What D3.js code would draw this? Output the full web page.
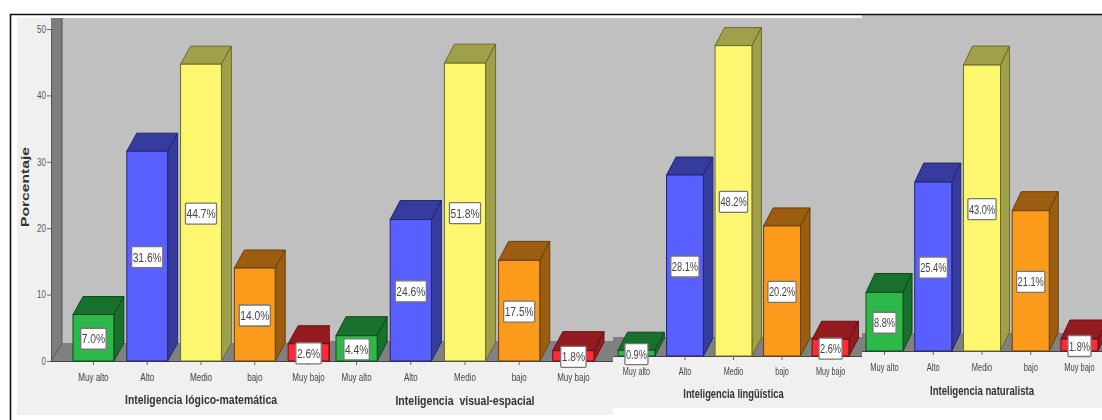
<!DOCTYPE html>
<html>
<head>
<meta charset="utf-8">
<script src="https://d3js.org/d3.v7.min.js"></script>
<style>
  html, body { margin: 0; padding: 0; background: #fff; }
  svg { display: block; }
</style>
</head>
<body>
<div id="chart"></div>
<script>
// data
var categories = ["Muy alto", "Alto", "Medio", "bajo", "Muy bajo"];
var titles = ["Inteligencia lógico-matemática", "Inteligencia  visual-espacial", "Inteligencia lingüística", "Inteligencia naturalista"];
var logicoValues = [7.0, 31.6, 44.7, 14.0, 2.6];
var visualValues = [4.4, 24.6, 51.8, 17.5, 1.8];
var linguisticaValues = [0.9, 28.1, 48.2, 20.2, 2.6];
var naturalistaValues = [8.8, 25.4, 43.0, 21.1, 1.8];
var yTicks = [0, 10, 20, 30, 40, 50];

var seriesValues = [logicoValues, visualValues, linguisticaValues, naturalistaValues];

var svgWidth = 1102;
var svgHeight = 420;

// each panel was pasted in at its own size, so each one has its own scale
var panels = [
  { x0: 17, x1: 330, top: 18, bottom: 415, base: 361, floor: 343, yTop: 29, barL: 73, barR: 329, dx: 10, dy: 18, tickY: 378, titleY: 400, squeeze: 0.8, titleSqueeze: 0.87, boxSqueeze: 0.82 },
  { x0: 330, x1: 613, top: 18, bottom: 415, base: 361, floor: 341, yTop: 73.5, barL: 336, barR: 594, dx: 10, dy: 19, tickY: 378, titleY: 401, squeeze: 0.8, titleSqueeze: 0.88, boxSqueeze: 0.82 },
  { x0: 613, x1: 862, top: 18, bottom: 408, base: 356, floor: 337, yTop: 34, barL: 618, barR: 849, dx: 9.5, dy: 18, tickY: 372, titleY: 394, squeeze: 0.72, titleSqueeze: 0.78, boxSqueeze: 0.74 },
  { x0: 862, x1: 1102, top: 15, bottom: 408, base: 351, floor: 333, yTop: 18.5, barL: 866, barR: 1098, dx: 9, dy: 19, tickY: 368, titleY: 391, squeeze: 0.75, titleSqueeze: 0.8, boxSqueeze: 0.74 }
];

var frontColors = ["#2db84a", "#5a5fff", "#fdf76f", "#fc9a1c", "#ff2a33"];
var darkColors = ["#17702c", "#363c9e", "#a0a04a", "#9c5d10", "#941c20"];
var edgeColors = ["#0f4a1d", "#232768", "#6a6a30", "#67400b", "#611215"];

var fontName = "'Liberation Sans', sans-serif";

// the labels in the picture are condensed, no narrow face is installed
function squeezeText(selection, k) {
  selection.each(function() {
    d3.select(this)
      .attr("textLength", this.getComputedTextLength() * k)
      .attr("lengthAdjust", "spacingAndGlyphs");
  });
}

var svg = d3.select("#chart")
  .append("svg")
  .attr("width", svgWidth)
  .attr("height", svgHeight)
  .style("filter", "blur(0.7px)");

panels.forEach(function(p, i) {
  var g = svg.append("g");

  var yScale = d3.scaleLinear().domain([0, 50]).range([p.base, p.yTop]);
  var xScale = d3.scaleBand()
    .domain(categories)
    .range([p.barL, p.barR])
    .paddingInner(0.24);

  // panel, back wall and floor
  g.append("rect").attr("x", p.x0).attr("y", p.top)
    .attr("width", p.x1 - p.x0).attr("height", p.bottom - p.top)
    .attr("fill", "#f0f0f0");
  var wallLeft = i == 0 ? 62 : p.x0;
  g.append("rect").attr("x", wallLeft).attr("y", p.top)
    .attr("width", p.x1 - wallLeft).attr("height", p.floor - p.top)
    .attr("fill", "#c0c0c0");
  if (i == 0) {
    g.append("rect").attr("x", 51).attr("y", p.top)
      .attr("width", 11).attr("height", p.base - p.top)
      .attr("fill", "#7d7d7d");
    g.append("line").attr("x1", 62).attr("x2", 62).attr("y1", p.top).attr("y2", p.floor)
      .attr("stroke", "#555");
  }
  g.append("polygon")
    .attr("points", i == 0
      ? [[51, p.base], [62, p.floor], [p.x1, p.floor], [p.x1, p.base]].join(" ")
      : [[p.x0, p.base], [p.x0, p.floor], [p.x1, p.floor], [p.x1, p.base]].join(" "))
    .attr("fill", "#808080");
  if (i == 0) {
    g.append("line").attr("x1", 51).attr("x2", 62).attr("y1", p.base).attr("y2", p.floor)
      .attr("stroke", "#555");
  }

  // axes
  var bottomAxis = d3.axisBottom(xScale).tickSize(4).tickPadding(p.tickY - p.base - 8);
  var xAxis = g.append("g")
    .attr("transform", "translate(0," + p.base + ")")
    .call(bottomAxis);
  xAxis.select(".domain")
    .attr("d", "M" + (i == 0 ? 47 : p.x0) + ",0.5H" + p.x1)
    .attr("stroke", "#444");
  xAxis.selectAll(".tick line").attr("stroke", "#666");
  xAxis.selectAll("text")
    .attr("fill", "#444")
    .style("font-family", fontName)
    .style("font-size", "10px")
    .call(squeezeText, p.squeeze);

  if (i == 0) {
    var leftAxis = d3.axisLeft(yScale).tickValues(yTicks).tickSize(4).tickPadding(1);
    var yAxis = g.append("g")
      .attr("transform", "translate(51,0)")
      .call(leftAxis);
    yAxis.select(".domain").attr("stroke", "#555");
    yAxis.selectAll(".tick line").attr("stroke", "#666");
    yAxis.selectAll("text")
      .attr("fill", "#555")
      .style("font-family", fontName)
      .style("font-size", "10px")
      .call(squeezeText, 0.8);

    g.append("text")
      .attr("transform", "translate(29,187) rotate(-90)")
      .attr("text-anchor", "middle")
      .attr("textLength", 80)
      .attr("lengthAdjust", "spacingAndGlyphs")
      .style("font-family", fontName)
      .style("font-size", "11px")
      .style("font-weight", "bold")
      .attr("fill", "#333")
      .text("Porcentaje");
  }

  // bars: front, top and side faces
  var bars = g.selectAll("g.bar")
    .data(seriesValues[i])
    .enter()
    .append("g")
    .attr("class", "bar");

  var bw = xScale.bandwidth();

  bars.append("polygon")
    .attr("points", function(d, j) {
      var x = xScale(categories[j]), y = yScale(d);
      return [[x, y], [x + p.dx, y - p.dy], [x + bw + p.dx, y - p.dy], [x + bw, y]].join(" ");
    })
    .attr("fill", function(d, j) { return darkColors[j]; })
    .attr("stroke", function(d, j) { return edgeColors[j]; });

  bars.append("polygon")
    .attr("points", function(d, j) {
      var x = xScale(categories[j]) + bw, y = yScale(d);
      return [[x, y], [x + p.dx, y - p.dy], [x + p.dx, p.base - p.dy], [x, p.base]].join(" ");
    })
    .attr("fill", function(d, j) { return darkColors[j]; })
    .attr("stroke", function(d, j) { return edgeColors[j]; });

  bars.append("rect")
    .attr("x", function(d, j) { return xScale(categories[j]); })
    .attr("y", function(d) { return yScale(d); })
    .attr("width", bw)
    .attr("height", function(d) { return p.base - yScale(d); })
    .attr("fill", function(d, j) { return frontColors[j]; })
    .attr("stroke", function(d, j) { return edgeColors[j]; });

  // value boxes, sized to their text
  var boxH = 21;
  var boxes = bars.append("rect")
    .attr("y", function(d) { return yScale(d / 2) - boxH / 2 + 1; })
    .attr("height", boxH)
    .attr("rx", 1)
    .attr("fill", "#fff")
    .attr("stroke", "#777")
    .attr("stroke-width", 1.3);

  var boxTexts = bars.append("text")
    .attr("x", function(d, j) { return xScale(categories[j]) + bw / 2; })
    .attr("y", function(d) { return yScale(d / 2) + 5.5; })
    .attr("text-anchor", "middle")
    .attr("fill", "#444")
    .style("font-family", fontName)
    .style("font-size", "12.5px")
    .text(function(d) { return d.toFixed(1) + "%"; })
    .call(squeezeText, p.boxSqueeze);

  boxes.each(function(d, j) {
    var w = boxTexts.nodes()[j].getComputedTextLength() + 2;
    d3.select(this)
      .attr("width", w)
      .attr("x", xScale(categories[j]) + bw / 2 - w / 2);
  });

  // panel title
  g.append("text")
    .attr("x", (p.barL + p.barR) / 2)
    .attr("y", p.titleY + 4)
    .attr("text-anchor", "middle")
    .attr("fill", "#333")
    .style("font-family", fontName)
    .style("font-size", "12px")
    .style("font-weight", "bold")
    .style("white-space", "pre")
    .text(titles[i])
    .call(squeezeText, p.titleSqueeze);
});

// black frame line along the top and left
svg.append("path")
  .attr("d", "M1102,14.5H10.5V420")
  .attr("fill", "none")
  .attr("stroke", "#111")
  .attr("stroke-width", 1.6);
</script>
</body>
</html>
